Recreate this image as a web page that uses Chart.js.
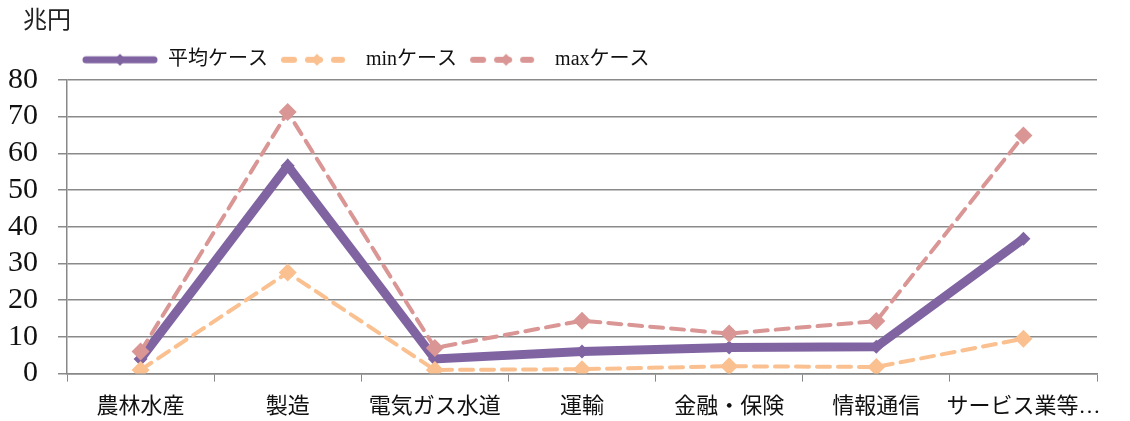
<!DOCTYPE html>
<html>
<head>
<meta charset="utf-8">
<script src="https://cdn.jsdelivr.net/npm/chart.js"></script>
<style>
  html, body { margin: 0; padding: 0; background: #fff; }
  #wrap { width: 1130px; height: 421px; }
</style>
</head>
<body>
<div id="wrap"><canvas id="chart" width="1130" height="421"></canvas></div>
<script>
// data
const categories = ['農林水産', '製造', '電気ガス水道', '運輸', '金融・保険', '情報通信', 'サービス業等…'];
const avgCase = [4, 56.6, 4, 6, 7.1, 7.3, 36.7];
const minCase = [1, 27.5, 1, 1.2, 2, 1.8, 9.5];
const maxCase = [6, 71.2, 7, 14.4, 10.9, 14.3, 64.8];
const yTicks = [0, 10, 20, 30, 40, 50, 60, 70, 80];

const FONT = '"Liberation Serif", "DejaVu Serif", "Noto Sans CJK JP", serif';

// legend swatch: line with diamond
function swatch(color, solid) {
    const c = document.createElement('canvas');
    c.width = 76; c.height = 16;
    const g = c.getContext('2d');
    g.strokeStyle = color;
    g.fillStyle = color;
    g.lineCap = 'round';
    if (solid) {
        g.lineWidth = 7;
        g.beginPath(); g.moveTo(4, 8); g.lineTo(72, 8); g.stroke();
    } else {
        g.lineWidth = 6;
        g.beginPath(); g.moveTo(4, 8); g.lineTo(14, 8); g.stroke();
        g.beginPath(); g.moveTo(28, 8); g.lineTo(40, 8); g.stroke();
        g.beginPath(); g.moveTo(54, 8); g.lineTo(62, 8); g.stroke();
    }
    const cx = solid ? 38 : 37;
    g.beginPath();
    g.moveTo(cx, 2); g.lineTo(cx + 6, 8); g.lineTo(cx, 14); g.lineTo(cx - 6, 8);
    g.closePath(); g.fill();
    return c;
}

const series = [
    { label: '平均ケース', data: avgCase, color: '#8064A2', width: 9, dash: [], r: 7 },
    { label: 'minケース', data: minCase, color: '#FAC090', width: 4, dash: [13, 8], r: 9 },
    { label: 'maxケース', data: maxCase, color: '#D99694', width: 4, dash: [13, 8], r: 9 }
];

// nudge title and legend to the right like the original
const shiftBlocks = {
    id: 'shiftBlocks',
    beforeDraw(chart) {
        if (chart.titleBlock) chart.titleBlock.left = 23;
        if (chart.legend) chart.legend.left = 70;
    }
};

const ctx = document.getElementById('chart').getContext('2d');
new Chart(ctx, {
    type: 'line',
    data: {
        labels: categories,
        datasets: series.map(s => ({
            label: s.label,
            data: s.data,
            borderColor: s.color,
            backgroundColor: s.color,
            borderWidth: s.width,
            borderDash: s.dash,
            borderCapStyle: 'round',
            pointStyle: 'rectRot',
            pointRadius: s.r,
            pointBorderWidth: 0,
            tension: 0,
            fill: false,
            legendImg: swatch(s.color, s.dash.length === 0)
        })).reverse()
    },
    options: {
        responsive: false,
        animation: false,
        layout: { padding: { left: -12, right: 33, top: 3, bottom: -11 } },
        plugins: {
            title: {
                display: true,
                text: '兆円',
                align: 'start',
                color: '#222',
                font: { family: FONT, size: 24, weight: 'normal' },
                padding: { top: 4, bottom: 2 }
            },
            legend: {
                position: 'top',
                align: 'start',
                labels: {
                    usePointStyle: true,
                    pointStyleWidth: 76,
                    boxHeight: 16,
                    color: '#111',
                    font: { family: FONT, size: 20 },
                    padding: 12,
                    generateLabels(chart) {
                        return chart.data.datasets.slice().reverse().map(ds => ({
                            text: ds.label,
                            pointStyle: ds.legendImg,
                            fontColor: '#111',
                            datasetIndex: chart.data.datasets.indexOf(ds),
                            hidden: false,
                            lineWidth: 0
                        }));
                    }
                }
            },
            tooltip: { enabled: false }
        },
        scales: {
            x: {
                offset: true,
                grid: {
                    offset: true,
                    drawOnChartArea: false,
                    drawTicks: true,
                    tickLength: 8,
                    color: '#888'
                },
                border: { color: '#888', width: 1.5 },
                ticks: {
                    color: '#111',
                    font: { family: FONT, size: 22 },
                    maxRotation: 0,
                    autoSkip: false,
                    padding: 12
                }
            },
            y: {
                min: 0,
                max: 80,
                afterBuildTicks(axis) { axis.ticks = yTicks.map(v => ({ value: v })); },
                grid: { color: '#8a8a8a', lineWidth: 1.5, tickLength: 9 },
                border: { color: '#888', width: 1.5 },
                ticks: {
                    color: '#111',
                    font: { family: FONT, size: 30 },
                    autoSkip: false,
                    padding: 20
                }
            }
        }
    },
    plugins: [shiftBlocks]
});
</script>
</body>
</html>
